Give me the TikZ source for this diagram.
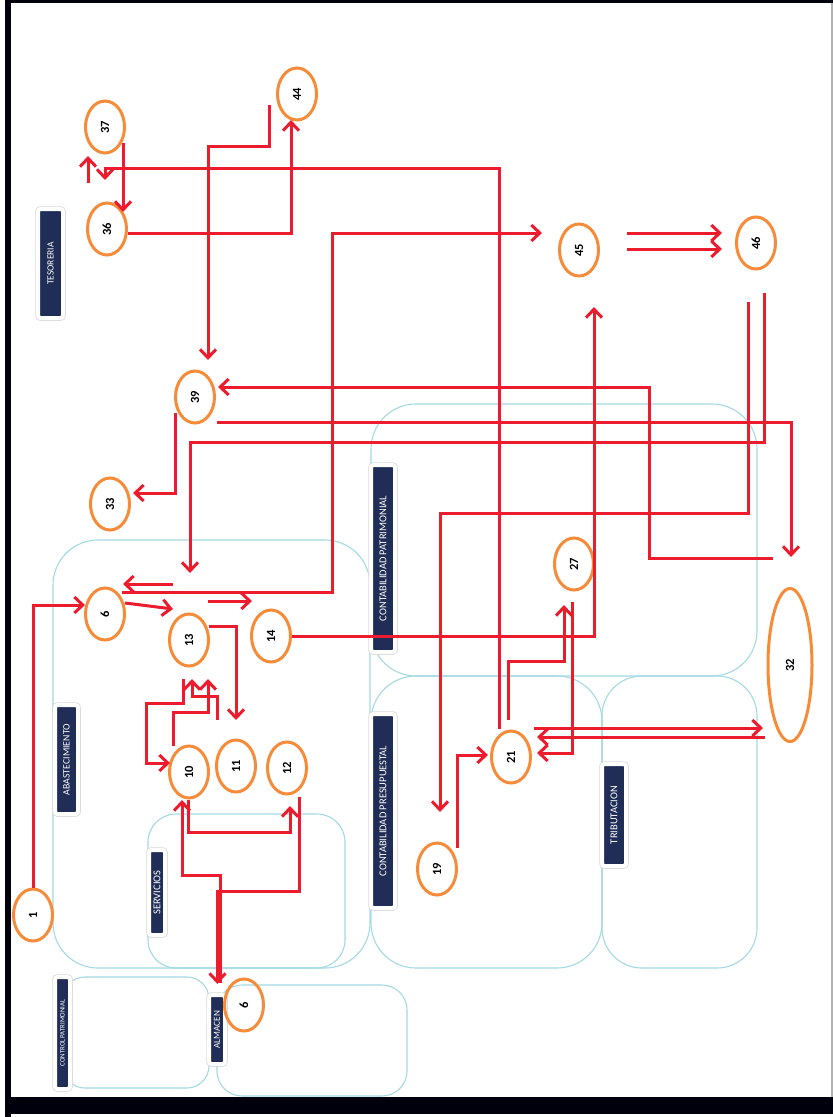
\documentclass[tikz,border=0pt]{standalone}
\usepackage{fontspec}
\setmainfont{Carlito}
\usetikzlibrary{arrows.meta,shapes.geometric,calc}
\definecolor{redc}{RGB}{236,28,46}
\definecolor{orng}{RGB}{246,140,58}
\definecolor{navy}{RGB}{32,45,86}
\definecolor{lanec}{RGB}{164,218,226}
\newcommand{\rt}[1]{\rotatebox{90}{#1}}
\begin{document}
\begin{tikzpicture}[x=1pt,y=-1pt,
 num/.style={ellipse, draw=orng, line width=3pt, minimum width=39pt, minimum height=52pt, inner sep=0pt, font=\bfseries\fontsize{12.5}{12.5}\selectfont},
 lbl/.style={rounded corners=2.5pt, fill=navy, draw=white, line width=4pt, preaction={draw=gray!30, line width=5.5pt}, text=white, rotate=90, inner sep=0pt, font=\fontsize{10.5}{10.5}\selectfont},
 lanebox/.style={draw=lanec, line width=1.1pt},
 conn/.style={draw=redc, line width=3pt},
 arr/.style={conn, -{Straight Barb[length=8.5pt,width=16pt]}},
]
\useasboundingbox (0,0) rectangle (833,1117);
% frame
\fill[white] (0,0) rectangle (833,1117);
\fill[black!95!blue] (5,0) rectangle (833,3);
\fill[black!95!blue] (5,0) rectangle (11,1117);
\fill[black!95!blue] (5,1097) rectangle (833,1114);
\fill[gray!60] (831,3) rectangle (833,1097);

% lanes
\draw[lanebox, rounded corners=45pt] (53,540) rectangle (370,968);
\draw[lanebox, rounded corners=45pt] (371,404) rectangle (757,676);
\draw[lanebox, rounded corners=45pt] (371,676) rectangle (602,968);
\draw[lanebox, rounded corners=40pt] (602,676) rectangle (757,968);
\draw[lanebox, rounded corners=28pt] (148,814) rectangle (345,968);
\draw[lanebox, rounded corners=22pt] (63,977) rectangle (209,1088);
\draw[lanebox, rounded corners=25pt] (217,985) rectangle (407,1096);

% labels
\node[lbl, minimum width=109pt, minimum height=25pt, font=\fontsize{9.5}{9.5}\selectfont] (lteso) at (50.5,263.5) {TESORERIA};
\node[lbl, minimum width=187pt, minimum height=24pt] (lpatr) at (383,558.5) {CONTABILIDAD PATRIMONIAL};
\node[lbl, minimum width=109pt, minimum height=23pt, font=\fontsize{9.8}{9.8}\selectfont] (labas) at (66.5,759.5) {ABASTECIMIENTO};
\node[lbl, minimum width=194pt, minimum height=24pt] (lpres) at (383,811) {CONTABILIDAD PRESUPUESTAL};
\node[lbl, minimum width=85pt, minimum height=16pt, font=\fontsize{10.5}{10.5}\selectfont] (lserv) at (157,892.5) {SERVICIOS};
\node[lbl, minimum width=112pt, minimum height=15pt, font=\fontsize{6.8}{6.8}\selectfont] (lctrl) at (62.5,1033) {CONTROL PATRIMONIAL};
\node[lbl, minimum width=69pt, minimum height=16pt, font=\fontsize{9.2}{9.2}\selectfont] (lalma) at (217,1029.5) {ALMACEN};
\node[lbl, minimum width=102pt, minimum height=24pt] (ltrib) at (614,815) {TRIBUTACION};

% nodes
\node[num] (n37) at (105,127) {\rt{37}};
\node[num] (n36) at (107,229) {\rt{36}};
\node[num] (n44) at (297,94) {\rt{44}};
\node[num] (n45) at (579,250) {\rt{45}};
\node[num] (n46) at (756,243) {\rt{46}};
\node[num] (n39) at (195,397) {\rt{39}};
\node[num] (n33) at (110,504) {\rt{33}};
\node[num] (n6a) at (105,614) {\rt{6}};
\node[num] (n13) at (189,640) {\rt{13}};
\node[num] (n14) at (271,636) {\rt{14}};
\node[num] (n10) at (189,772) {\rt{10}};
\node[num] (n11) at (236,766) {\rt{11}};
\node[num] (n12) at (287,768) {\rt{12}};
\node[num] (n1) at (33,915) {\rt{1}};
\node[num] (n6b) at (244,1005) {\rt{6}};
\node[num] (n27) at (574,564) {\rt{27}};
\node[num, minimum width=44pt, minimum height=153pt] (n32) at (790,665) {\rt{32}};
\node[num] (n21) at (511,757) {\rt{21}};
\node[num] (n19) at (437,869) {\rt{19}};

% free ends
\coordinate (u1) at (88,183);
\coordinate (u2) at (88,156);
\coordinate (q44) at (269,105);
\coordinate (f1) at (173,584);
\coordinate (f2) at (208,601);
\coordinate (f3) at (252,601);
\coordinate (f4) at (217,720);

% connectors
\draw[arr] ($(n37)+(18,16)$) -- ($(n36)+(16,-17)$);
\draw[arr] ($(n21)+(-12,-28)$) -- (499,168) -- (105,168) -- (105,180);
\draw[arr] (u1) -- (u2);
\draw[arr] ($(n36)+(21,4)$) -| ($(n44)+(-6,26)$);
\draw[arr] (q44) -- (269,146) -| ($(n39)+(13,-37)$);
\draw[arr] ($(n6a)+(17,-22)$) -- (332,592) |- ($(n45)+(-37,-17)$);
\draw[arr] ($(n45)+(48,-17)$) -- ($(n46)+(-34,-10)$);
\draw[arr] ($(n45)+(48,-1)$) -- ($(n46)+(-34,6)$);
\draw[arr] ($(n46)+(-8,59)$) -- (748,513) -| ($(n19)+(3,-57)$);
\draw[arr] ($(n46)+(8,50)$) -- (764,442) -| ($(n13)+(1,-67)$);
\draw[arr] ($(n32)+(-17,-107)$) -- (649,558) |- ($(n39)+(23,-10)$);
\draw[arr] ($(n39)+(22,25)$) -| ($(n32)+(1,-108)$);
\draw[arr] ($(n39)+(-20,16)$) |- ($(n33)+(23,-11)$);
\draw[arr] (f1) -- ($(n6a)+(18,-30)$);
\draw[arr] ($(n6a)+(20,-11)$) -- ($(n13)+(-16,-31)$);
\draw[arr] (f2) -- (f3);
\draw[arr] (n1.north) |- ($(n6a)+(-20,-9)$);
\draw[arr] (n14.east) -| ($(n45)+(15,57)$);
\draw[arr] ($(n13)+(20,-14)$) -| ($(n11)+(0,-46)$);
\draw[arr] ($(n13)+(-6,39)$) -- (183,703) -- (146,703) |- ($(n10)+(-19,-9)$);
\draw[arr] ($(n10)+(-16,-26)$) -- (173,712) -| ($(n13)+(19,39)$);
\draw[arr] (f4) -- (217,696) -| ($(n13)+(3,39)$);
\draw[arr] ($(n6b)+(-24,-22)$) -- (220,875) -| ($(n10)+(-7,28)$);
\draw[arr] ($(n12)+(12,29)$) -- (299,891) -| ($(n6b)+(-26.5,-21)$);
\draw[arr] ($(n10)+(-1,28)$) -- (188,832) -| ($(n12)+(3,38)$);
\draw[arr] ($(n19)+(20,-21)$) |- ($(n21)+(-23,-2)$);
\draw[arr] ($(n21)+(-3,-37)$) -- (508,661) -| ($(n27)+(-10,41)$);
\draw[arr] ($(n27)+(-2,38)$) |- ($(n21)+(26,-4)$);
\draw[arr] ($(n21)+(23,-29)$) -- ($(n32)+(-27,63)$);
\draw[arr] ($(n32)+(-25,72)$) -- ($(n21)+(26,-20)$);
\end{tikzpicture}
\end{document}
